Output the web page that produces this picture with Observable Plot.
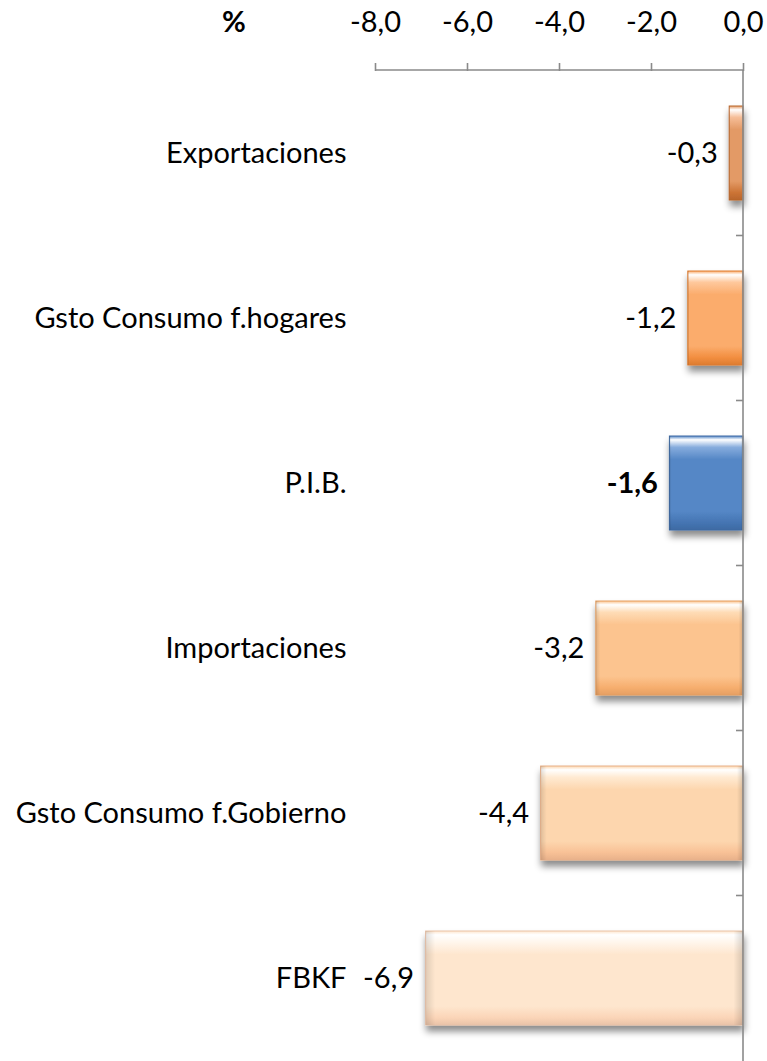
<!DOCTYPE html>
<html><head><meta charset="utf-8">
<script src="https://cdn.jsdelivr.net/npm/d3@7"></script>
<script src="https://cdn.jsdelivr.net/npm/@observablehq/plot@0.6"></script>
<style>body{margin:0;background:#fff}</style>
</head><body><div id="chart"></div>
<script>
// ---- data ----
const categories = ["Exportaciones", "Gsto Consumo f.hogares", "P.I.B.", "Importaciones", "Gsto Consumo f.Gobierno", "FBKF"];
const values = [-0.3, -1.2, -1.6, -3.2, -4.4, -6.9];
const valueLabels = ["-0,3", "-1,2", "-1,6", "-3,2", "-4,4", "-6,9"];
const xTicks = [-8, -6, -4, -2, 0];
const xTickLabels = ["-8,0", "-6,0", "-4,0", "-2,0", "0,0"];
const unitLabel = "%";
const highlighted = "P.I.B.";

// ---- style palette (top, middle, bottom, edge) ----
const palette = [
  ["#F6BE98", "#E39A66", "#CC7436", "#B8662C"],
  ["#FEC89C", "#FBAC6C", "#F28E40", "#DD7C30"],
  ["#86ACDD", "#5587C6", "#4575B3", "#3E6AA3"],
  ["#FEDCB6", "#FCC48F", "#F6AE6E", "#E59F63"],
  ["#FFEAD2", "#FDD6AE", "#F8C196", "#E8B18A"],
  ["#FFF6EC", "#FEE6CE", "#FBD5B8", "#E9C3A8"]
];

const data = categories.map((c, i) => ({cat: c, value: values[i], label: valueLabels[i], i}));
const FONT = "Lato, 'Open Sans', sans-serif";
const FS = 29;

function defsMark() {
  const g = d3.create("svg:g");
  const defs = g.append("defs");
  palette.forEach((p, i) => {
    const lg = defs.append("linearGradient").attr("id", "grad" + i)
      .attr("x1", 0).attr("y1", 0).attr("x2", 0).attr("y2", 1);
    [[0, p[1]], [0.04, "#FFFFFF"], [0.12, p[0]], [0.25, p[1]], [0.8, p[1]], [0.92, p[2]], [1, p[3]]]
      .forEach(([o, c]) => lg.append("stop").attr("offset", o).attr("stop-color", c));
  });
  const h = defs.append("linearGradient").attr("id", "bevelH").attr("x1", 0).attr("y1", 0).attr("x2", 1).attr("y2", 0);
  [[0, 0.12], [0.03, 0.0], [0.97, 0.0], [1, 0.15]]
    .forEach(([o, op]) => h.append("stop").attr("offset", o).attr("stop-color", "#000").attr("stop-opacity", op));
  const f = defs.append("filter").attr("id", "shadow").attr("x", "-10%").attr("y", "-10%").attr("width", "130%").attr("height", "150%");
  f.append("feDropShadow").attr("dx", 1).attr("dy", 6).attr("stdDeviation", 3.5).attr("flood-color", "#000").attr("flood-opacity", 0.45);
  return g.node();
}

function frameMark(index, scales, values, dim) {
  const x = scales.x, y = scales.y;
  const g = d3.create("svg:g").attr("stroke", "#8A8A8A").attr("stroke-width", 1.6).attr("fill", "none");
  const top = dim.marginTop;
  const x0 = x(0), x8 = x(-8);
  g.append("line").attr("x1", x8).attr("x2", x0).attr("y1", top).attr("y2", top);
  g.append("line").attr("x1", x0).attr("x2", x0).attr("y1", top).attr("y2", dim.height);
  const bw = typeof y.bandwidth === "function" ? y.bandwidth() : (y.bandwidth || 0);
  for (let k = 0; k < categories.length - 1; k++) {
    const b = (y(categories[k]) + bw + y(categories[k + 1])) / 2;
    g.append("line").attr("x1", x0 - 7).attr("x2", x0).attr("y1", b).attr("y2", b);
  }
  g.append("text").attr("x", x8 - 141).attr("y", top - 48).attr("dy", "0.35em")
    .attr("stroke", "none").attr("fill", "#000").attr("font-weight", "bold")
    .attr("font-size", FS).attr("text-anchor", "middle").text(unitLabel);
  return g.node();
}

const chart = Plot.plot({
  width: 767, height: 1061,
  marginTop: 70, marginBottom: 0, marginLeft: 375, marginRight: 24,
  style: {fontFamily: FONT, fontSize: FS + "px", color: "#000", background: "#fff", overflow: "visible"},
  x: {domain: [-8, 0]},
  y: {domain: categories, paddingInner: 0.43, paddingOuter: 0.215},
  marks: [
    defsMark,
    Plot.barX(data, {x: "value", y: "cat", fill: d => `url(#grad${d.i})`, stroke: d => palette[d.i][3], strokeWidth: 1}),
    Plot.barX(data, {x: "value", y: "cat", fill: "url(#bevelH)"}),
    frameMark,
    Plot.axisX({anchor: "top", ticks: xTicks, tickFormat: d => xTickLabels[xTicks.indexOf(d)], tickSize: 8, tickPadding: 31, stroke: "#8A8A8A", strokeWidth: 1.6, fontSize: FS, label: null}),
    Plot.axisY({anchor: "left", tickSize: 0, tickPadding: 29, fontSize: FS, label: null}),
    Plot.text(data, {filter: d => d.cat !== highlighted, x: "value", y: "cat", text: "label", textAnchor: "end", dx: -12, fontSize: FS}),
    Plot.text(data, {filter: d => d.cat === highlighted, x: "value", y: "cat", text: "label", textAnchor: "end", dx: -12, fontSize: FS, fontWeight: "bold"})
  ]
});
d3.select(chart).selectAll("g[aria-label=bar]").filter((d, i) => i === 0).attr("filter", "url(#shadow)");
document.getElementById("chart").appendChild(chart);
</script>
</body></html>
